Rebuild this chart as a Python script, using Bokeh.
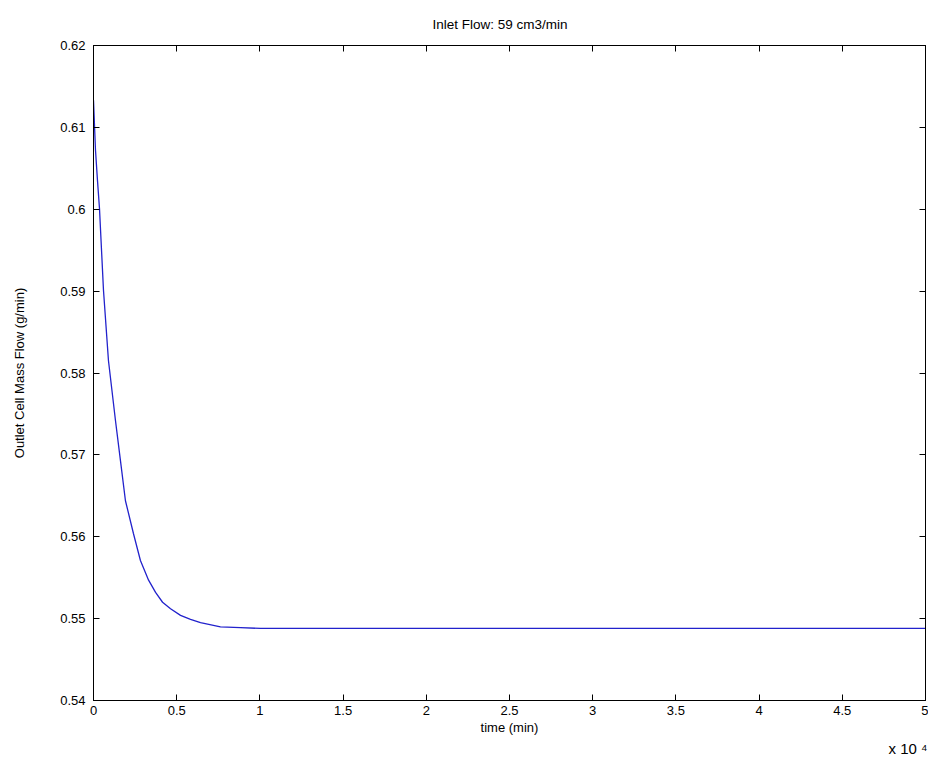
from bokeh.plotting import figure
from bokeh.models import (Range1d, SingleIntervalTicker, CustomJSTickFormatter,
                          LinearAxis, Title)
from bokeh.embed import file_html
from bokeh.resources import INLINE

# Data (time in minutes, outlet cell mass flow in g/min)
time_min = [0, 120, 240, 360, 600, 900, 1320, 1620, 1920, 2400, 2820,
            3310, 3730, 4150, 4630, 5230, 5830, 6430, 7630, 8830, 10040, 50000]
flow_g_min = [0.6133, 0.6072, 0.6035, 0.6001, 0.5901, 0.5815, 0.5742,
              0.5693, 0.5644, 0.5604, 0.5571, 0.5547, 0.5532, 0.5520, 0.5512,
              0.5504, 0.5499, 0.5495, 0.5490, 0.5489, 0.5488, 0.5488]

title_text = "Inlet Flow: 59 cm3/min"
x_label = "time (min)"
y_label = "Outlet Cell Mass Flow (g/min)"
x_exponent = "x 10 \u2074"

FONT = "Liberation Sans"

p = figure(width=928, height=757, output_backend="svg", toolbar_location=None,
           x_range=Range1d(0, 50000), y_range=Range1d(0.54, 0.62),
           min_border_left=93, min_border_top=45, min_border_right=3,
           min_border_bottom=57, background_fill_color="white",
           border_fill_color="white")

p.title.text = title_text
p.title.align = "left"
p.title.offset = 339
p.title.text_font = FONT
p.title.text_font_size = "13.5px"
p.title.text_font_style = "normal"
p.title.text_color = "black"
p.title.standoff = 28

p.line(time_min, flow_g_min, line_color="#2222cc", line_width=1.3)

p.xgrid.visible = False
p.ygrid.visible = False
p.outline_line_color = "black"
p.outline_line_width = 1

xfmt = CustomJSTickFormatter(code="return (Math.round(tick/1000)/10).toString();")
yfmt = CustomJSTickFormatter(code="return (Math.round(tick*100)/100).toString();")
blank = CustomJSTickFormatter(code="return '';")

def style_axis(ax):
    ax.major_tick_in = 6
    ax.major_tick_out = 0
    ax.minor_tick_in = 0
    ax.minor_tick_out = 0
    ax.axis_line_color = "black"
    ax.major_tick_line_color = "black"
    ax.major_label_text_font = FONT
    ax.major_label_text_font_size = "13px"
    ax.major_label_text_color = "black"
    ax.axis_label_text_font = FONT
    ax.axis_label_text_font_size = "13px"
    ax.axis_label_text_font_style = "normal"
    ax.axis_label_text_color = "black"

xax = p.xaxis[0]
xax.ticker = SingleIntervalTicker(interval=5000)
xax.formatter = xfmt
xax.axis_label = x_label
xax.major_label_standoff = 5
xax.axis_label_standoff = 2
style_axis(xax)

yax = p.yaxis[0]
yax.ticker = SingleIntervalTicker(interval=0.01)
yax.formatter = yfmt
yax.axis_label = y_label
yax.major_label_standoff = 8
yax.axis_label_standoff = 30
style_axis(yax)

top_ax = LinearAxis(ticker=SingleIntervalTicker(interval=5000), formatter=blank)
style_axis(top_ax)
top_ax.major_label_standoff = 0
p.add_layout(top_ax, "above")

right_ax = LinearAxis(ticker=SingleIntervalTicker(interval=0.01), formatter=blank)
style_axis(right_ax)
right_ax.major_label_standoff = 0
p.add_layout(right_ax, "right")

exp_title = Title(text=x_exponent, align="right", text_font=FONT,
                  text_font_size="15px", text_font_style="normal",
                  text_color="black", standoff=0, offset=-2)
p.add_layout(exp_title, "below")

open("out.html", "w").write(file_html(p, INLINE))
